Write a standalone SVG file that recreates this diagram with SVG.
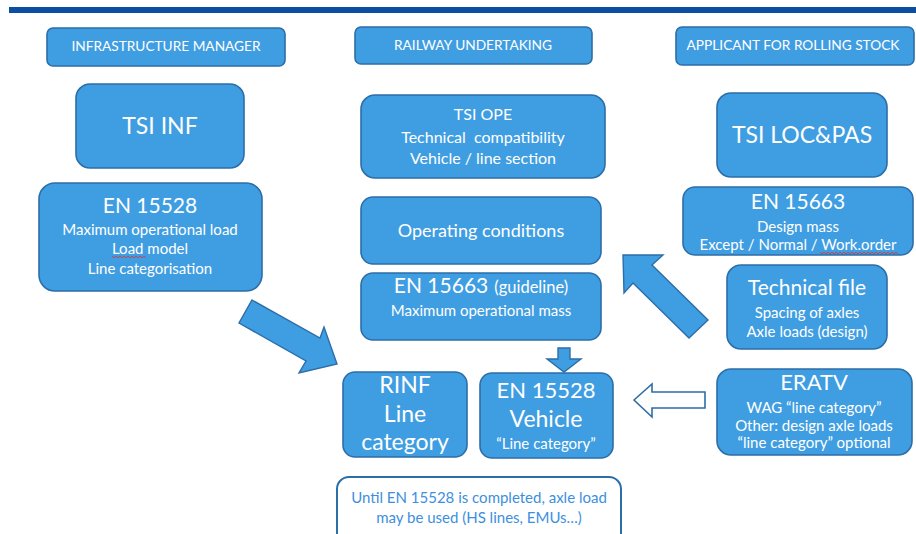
<svg xmlns="http://www.w3.org/2000/svg" width="916" height="534" viewBox="0 0 916 534">
<style>
.box{fill:#3f9de2;stroke:#2c6ea8;stroke-width:1.6}
.arrow{fill:#3f9de2;stroke:#2c6ea8;stroke-width:1.4;stroke-linejoin:miter}
text{font-family:Lato,"Noto Sans","Liberation Sans",sans-serif;fill:#ffffff;text-anchor:middle}
.hd{font-size:13.7px}
.t24{font-size:24px}
.t21{font-size:21px}
.t18{font-size:18px}
.t16{font-size:16px}
.t15{font-size:15px}
.note{fill:#3d8fe0;font-size:15px}
.sq{fill:none;stroke:#e03030;stroke-width:0.8}
</style>
<rect width="916" height="534" fill="#ffffff"/>
<rect x="9" y="7" width="907" height="6" fill="#0b4ea2"/>

<g id="hdr-im"><rect class="box" x="47" y="28" width="238" height="38" rx="6"/><text class="hd" x="166" y="51">INFRASTRUCTURE MANAGER</text></g>
<g id="hdr-ru"><rect class="box" x="355" y="27" width="237" height="37" rx="6"/><text class="hd" x="473" y="50">RAILWAY UNDERTAKING</text></g>
<g id="hdr-ap"><rect class="box" x="676" y="27" width="238" height="38" rx="6"/><text class="hd" x="793" y="50">APPLICANT FOR ROLLING STOCK</text></g>

<g id="tsi-inf"><rect class="box" x="76" y="84" width="168" height="84" rx="14"/><text x="160" y="134" style="font-size:23px">TSI INF</text></g>
<g id="en15528-left"><rect class="box" x="39" y="183" width="223" height="108" rx="16"/>
<text class="t21" x="150" y="213">EN 15528</text>
<text class="t15" x="150" y="235">Maximum operational load</text>
<text class="t15" x="150" y="254">Load model</text>
<text class="t15" x="150" y="274">Line categorisation</text>
<polyline class="sq" points="112,256 114,258 116,256 118,258 120,256 122,258 124,256 126,258 128,256 130,258 132,256 134,258 136,256 138,258 140,256 142,258 144,256 146,258"/>
</g>

<g id="tsi-ope"><rect class="box" x="361" y="95" width="244" height="83" rx="14"/>
<text class="t16" x="483" y="120">TSI OPE</text>
<text class="t16" x="483" y="143" xml:space="preserve">Technical  compatibility</text>
<text class="t16" x="483" y="164">Vehicle / line section</text></g>
<g id="operating"><rect class="box" x="361" y="197" width="240" height="67" rx="12"/><text class="t18" x="481" y="237">Operating conditions</text></g>
<g id="en15663-guide"><rect class="box" x="361" y="273" width="240" height="67" rx="12"/>
<text x="481" y="293"><tspan class="t21">EN 15663</tspan><tspan dx="6" style="font-size:16.5px">(guideline)</tspan></text>
<text class="t15" x="481" y="316">Maximum operational mass</text></g>

<g id="rinf"><rect class="box" x="343" y="372" width="124" height="85" rx="12"/>
<text x="405" y="393" style="font-size:23px">RINF</text>
<text x="405" y="422" style="font-size:23px">Line</text>
<text x="405" y="450" style="font-size:23px">category</text></g>
<g id="en15528-vehicle"><rect class="box" x="480" y="373" width="133" height="85" rx="12"/>
<text x="546" y="398" style="font-size:22px">EN 15528</text>
<text x="546" y="427" style="font-size:23px">Vehicle</text>
<text class="t15" x="546" y="449">“Line category”</text></g>

<g id="tsi-locpas"><rect class="box" x="717" y="93" width="170" height="84" rx="14"/><text x="802" y="143" style="font-size:23px">TSI LOC&amp;PAS</text></g>
<g id="en15663-right"><rect class="box" x="683" y="187" width="230" height="68" rx="12"/>
<text class="t21" x="798" y="209">EN 15663</text>
<text class="t15" x="798" y="232">Design mass</text>
<text class="t15" x="798" y="250">Except / Normal / Work.order</text>
<polyline class="sq" points="820,252 822,254 824,252 826,254 828,252 830,254 832,252 834,254 836,252 838,254 840,252 842,254 844,252 846,254 848,252 850,254 852,252 854,254 856,252 858,254 860,252 862,254 864,252 866,254 868,252 870,254 872,252 874,254 876,252 878,254 880,252 882,254 884,252 886,254 888,252 890,254 892,252 894,254 896,252 898,254"/>
</g>
<g id="technical-file"><rect class="box" x="727" y="265" width="160" height="84" rx="14"/>
<text class="t21" x="807" y="295">Technical file</text>
<text class="t15" x="807" y="318">Spacing of axles</text>
<text class="t15" x="807" y="337">Axle loads (design)</text></g>
<g id="eratv"><rect class="box" x="717" y="369" width="195" height="86" rx="14"/>
<text x="814" y="390" style="font-size:22px">ERATV</text>
<text class="t15" x="814" y="413">WAG “line category”</text>
<text class="t15" x="814" y="431">Other: design axle loads</text>
<text class="t15" x="814" y="448">“line category” optional</text></g>

<g id="note"><rect x="337" y="477" width="284" height="70" rx="12" fill="#ffffff" stroke="#2c6ea8" stroke-width="2"/>
<text class="note" x="479" y="503">Until EN 15528 is completed, axle load</text>
<text class="note" x="479" y="523">may be used (HS lines, EMUs…)</text></g>

<g id="connectors">
<polygon class="arrow" points="252,300 320,338 324,327 337,364 299,373 306,361 239,323"/>
<polygon class="arrow" points="623,255 663,255 652,265 708,320 689,338 633,283 624,293"/>
<polygon class="arrow" points="558,348 570,348 570,359 581,359 564,372 547,359 558,359"/>
<polygon points="634,400 652,384 652,392 705,392 705,408 652,408 652,417" fill="#ffffff" stroke="#2c6ea8" stroke-width="1.6"/>
</g>
</svg>
